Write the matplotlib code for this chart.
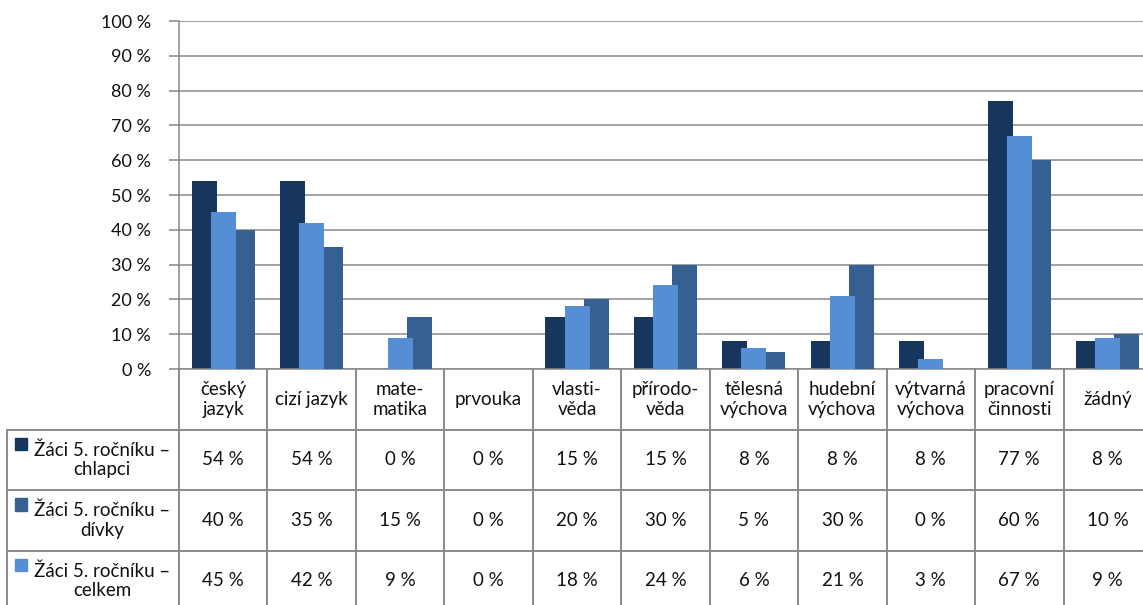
import matplotlib
matplotlib.use("Agg")
import matplotlib.pyplot as plt
import numpy as np

plt.rcParams['font.family'] = ['Lato', 'DejaVu Sans']

categories = ["český\njazyk", "cizí jazyk", "mate-\nmatika", "prvouka", "vlasti-\nvěda",
              "přírodo-\nvěda", "tělesná\nvýchova", "hudební\nvýchova", "výtvarná\nvýchova",
              "pracovní\nčinnosti", "žádný"]
chlapci = [54, 54, 0, 0, 15, 15, 8, 8, 8, 77, 8]
divky = [40, 35, 15, 0, 20, 30, 5, 30, 0, 60, 10]
celkem = [45, 42, 9, 0, 18, 24, 6, 21, 3, 67, 9]
series_labels = ["Žáci 5. ročníku –\nchlapci", "Žáci 5. ročníku –\ndívky", "Žáci 5. ročníku –\ncelkem"]
yticks = [0, 10, 20, 30, 40, 50, 60, 70, 80, 90, 100]

c_dark = "#17365D"
c_mid = "#376092"
c_light = "#558ED5"
grid_c = "#878787"
txt_c = "#111111"

W, H = 1143, 605
fig = plt.figure(figsize=(W / 100, H / 100), dpi=100)

col_w = 88.45
n = len(categories)
ax_left = 179 / W
ax_w = n * col_w / W
ax_bottom = (H - 369) / H
ax_h = (369 - 21) / H
ax = fig.add_axes([ax_left, ax_bottom, ax_w, ax_h])

x = np.arange(n) + 0.5
bw = 0.283
off = 0.215
ax.bar(x - off, chlapci, bw, color=c_dark, zorder=2)
ax.bar(x + off, divky, bw, color=c_mid, zorder=3)
ax.bar(x, celkem, bw, color=c_light, zorder=4)

ax.set_xlim(0, n)
ax.set_ylim(0, 100)
ax.set_yticks(yticks)
ax.set_yticklabels([f"{v} %" for v in yticks], fontsize=13, color=txt_c)
ax.set_xticks([])
ax.yaxis.grid(True, color=grid_c, linewidth=1.1, zorder=0)
ax.set_axisbelow(True)
for s in ["top", "right"]:
    ax.spines[s].set_visible(False)
ax.spines["left"].set_color(grid_c)
ax.spines["left"].set_linewidth(1.1)
ax.spines["bottom"].set_color(grid_c)
ax.spines["bottom"].set_linewidth(1.1)
ax.tick_params(axis="y", length=7, width=1.1, color=grid_c, pad=13)

# data table
row_h = 60.5
tax = fig.add_axes([ax_left, (H - 369 - 4 * row_h) / H, ax_w, 4 * row_h / H])
tax.set_xlim(0, n)
tax.set_ylim(4, 0)
tax.axis("off")
tcol = "#8a8a8a"
tlw = 1.4
left_x = (7 - 179) / col_w

for i in range(n + 1):
    tax.plot([i, i], [0, 4], color=tcol, lw=tlw, clip_on=False)
tax.plot([left_x, left_x], [1, 4], color=tcol, lw=tlw, clip_on=False)
for r in [1, 2, 3, 4]:
    tax.plot([left_x, n], [r, r], color=tcol, lw=tlw, clip_on=False)

fs = 13.5
for i, cat in enumerate(categories):
    tax.text(i + 0.5, 0.5, cat, ha="center", va="center", fontsize=fs,
             color=txt_c, linespacing=1.2)

rows = [chlapci, divky, celkem]
colors = [c_dark, c_mid, c_light]
sq_x = (15 - 179) / col_w
txt_x = (102 - 179) / col_w
for r, (vals, lab, col) in enumerate(zip(rows, series_labels, colors)):
    yc = r + 1.5
    tax.add_patch(plt.Rectangle((sq_x, yc - 0.36), 12 / col_w, 0.2,
                                color=col, clip_on=False))
    tax.text(txt_x, yc, lab, ha="center", va="center", fontsize=fs,
             color=txt_c, linespacing=1.2, multialignment="center")
    for i, v in enumerate(vals):
        tax.text(i + 0.5, yc, f"{v} %", ha="center", va="center", fontsize=fs,
                 color=txt_c)

fig.savefig("out.png", dpi=100)
